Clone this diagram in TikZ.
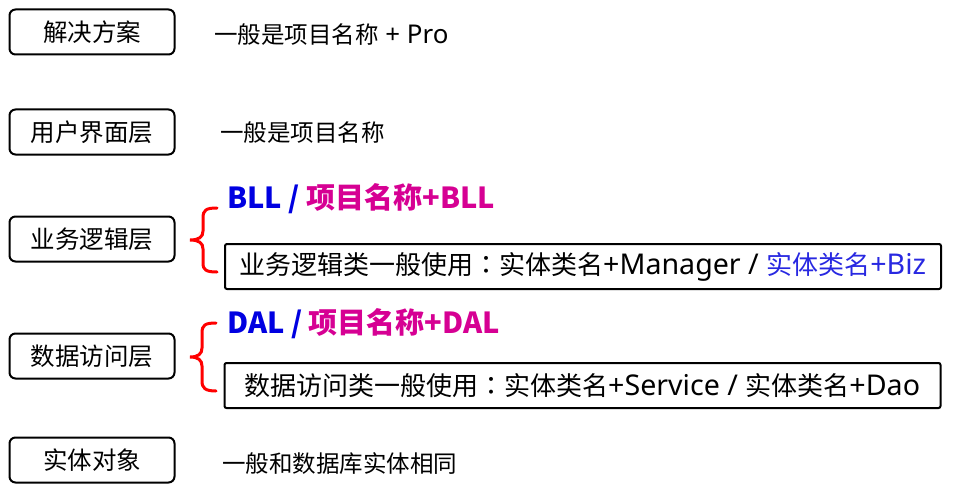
\documentclass[tikz,border=0pt]{standalone}
\usepackage{fontspec}
\setmainfont{Noto Sans}[Scale=1.1]
\newfontfamily\zhfont{Noto Sans CJK SC}
\newfontfamily\tcfont{Noto Sans CJK TC}
\newcommand\zh[1]{{\zhfont #1}}
\newcommand\zcolon{{\tcfont ：}}
\definecolor{hblue}{RGB}{0,0,225}
\definecolor{hmag}{RGB}{214,0,147}
\definecolor{tblue}{RGB}{40,40,225}
\begin{document}
\begin{tikzpicture}[x=1pt,y=-1pt,
  layer/.style={draw=black,line width=2pt,rounded corners=6pt,minimum width=165pt,minimum height=45pt,inner sep=0pt,font=\fontsize{24.5}{28}\zhfont},
  note/.style={anchor=west,inner sep=0pt,font=\fontsize{23.5}{28}\selectfont},
  head/.style={anchor=west,inner sep=0pt,font=\fontsize{29}{34}\zhfont\bfseries},
  longbox/.style={draw=black,line width=2pt,rounded corners=2pt,minimum width=716pt,minimum height=45pt,inner sep=0pt},
  longtext/.style={anchor=west,inner sep=0pt,font=\fontsize{26}{30}\selectfont},
  bracket/.style={draw=red,line width=3pt,line cap=round}
]
\useasboundingbox (0,0) rectangle (960,492);

\node[layer] (sol) at (92,32) {解决方案};
\node[note] (solt) at (214,35) {\zh{一般是项目名称} + Pro};

\node[layer] (ui) at (92,132) {用户界面层};
\node[note] (uit) at (220,133) {\zh{一般是项目名称}};

\node[layer] (bll) at (92,239) {业务逻辑层};
\node[head] (bllh) at (227,199) {\textcolor{hblue}{BLL /} \textcolor{hmag}{项目名称+BLL}};
\node[longbox] (bllb) at (583,266.5) {};
\node[longtext] (bllbt) at (239,266.5) {\zh{业务逻辑类一般使用}\zcolon\zh{实体类名}+Manager / \textcolor{tblue}{\zh{实体类名}+Biz}};
\draw[bracket] (217,208) .. controls (206,208) and (203,210) .. (203,218) -- (203,231)
  .. controls (203,237) and (199,240) .. (190,240)
  .. controls (199,240) and (203,243) .. (203,249) -- (203,263)
  .. controls (203,270) and (206,272) .. (217,272);

\node[layer] (dal) at (92,356) {数据访问层};
\node[head] (dalh) at (227,324) {\textcolor{hblue}{DAL /} \textcolor{hmag}{项目名称+DAL}};
\node[longbox] (dalb) at (582.5,385.5) {};
\node[longtext] (dalbt) at (244,385.5) {\zh{数据访问类一般使用}\zcolon\zh{实体类名}+Service / \zh{实体类名}+Dao};
\draw[bracket] (216,323) .. controls (205,323) and (202,325) .. (202,333) -- (202,348)
  .. controls (202,354) and (198,357) .. (190,357)
  .. controls (198,357) and (202,360) .. (202,366) -- (202,381)
  .. controls (202,388) and (205,391) .. (216,391);

\node[layer] (ent) at (92,460) {实体对象};
\node[note] (entt) at (222,464) {\zh{一般和数据库实体相同}};
\end{tikzpicture}
\end{document}
